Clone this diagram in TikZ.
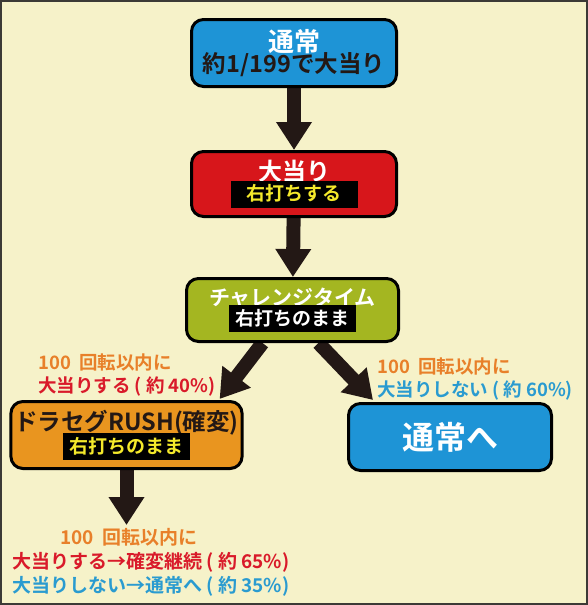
\documentclass[tikz,border=0pt]{standalone}
\usepackage{fontspec}
\setmainfont{Noto Sans CJK JP}[BoldFont={Noto Sans CJK JP Bold}]
\usepackage{xcolor}
\usetikzlibrary{arrows.meta, backgrounds}

\definecolor{paper}{HTML}{F6F2C9}
\definecolor{frame}{HTML}{3C3A36}
\definecolor{inkdark}{HTML}{231815}
\definecolor{boxblue}{HTML}{1E94D6}
\definecolor{boxred}{HTML}{D7161B}
\definecolor{boxolive}{HTML}{A4B621}
\definecolor{boxorange}{HTML}{E9951F}
\definecolor{txtorange}{HTML}{E8802A}
\definecolor{txtred}{HTML}{D91A2A}
\definecolor{txtblue}{HTML}{2A9BD0}
\definecolor{tagyellow}{HTML}{F4E92B}

\newcommand{\tagbox}[2]{{\setlength{\fboxsep}{0pt}\colorbox{black}{\makebox[127pt]{\rule[-7pt]{0pt}{27pt}\fontsize{19}{19}\selectfont\color{#1}#2}}}}

\tikzstyle{stagebox} = [rectangle, rounded corners=12pt, minimum width=205pt, minimum height=67pt, align=center, draw=black, line width=3pt, font=\bfseries]
\tikzstyle{note} = [align=left, anchor=north west, inner sep=0pt, font=\bfseries\fontsize{18.5}{23}\selectfont]
\tikzstyle{bigarrow} = [line width=14pt, draw=inkdark, -{Triangle[length=28pt, width=34pt]}]

\begin{document}
\begin{tikzpicture}[node distance=126pt]
\useasboundingbox (0,0) rectangle (588pt,-605pt);
\node (tsujo) [stagebox, fill=boxblue, text=white] at (294pt,-53pt) {{\fontsize{26}{28}\selectfont 通常}\\[-2pt]{\fontsize{23.5}{24}\selectfont\color{inkdark}約1/199で大当り}};
\node (atari) [stagebox, fill=boxred, text=white, minimum height=65pt, below of=tsujo, yshift=-5pt] {{\fontsize{24}{26}\selectfont 大当り}\\[-3pt]\tagbox{tagyellow}{右打ちする}};
\node (chal) [stagebox, fill=boxolive, text=white, minimum width=212pt, minimum height=63pt, below of=atari, xshift=-1.5pt] {{\fontsize{21}{24}\selectfont チャレンジタイム}\\[-3pt]\tagbox{white}{右打ちのまま}};
\node (rush) [stagebox, fill=boxorange, text=inkdark, minimum width=230pt, below of=chal, xshift=-166pt, yshift=1pt] {{\fontsize{23.5}{26}\selectfont ドラセグRUSH(確変)}\\[-3pt]\tagbox{tagyellow}{右打ちのまま}};
\node (tsujohe) [stagebox, fill=boxblue, text=white, minimum width=203pt, below of=chal, xshift=157.5pt, yshift=-1pt] {\fontsize{32}{34}\selectfont 通常へ};
\coordinate [below of=rush, node distance=90pt] (rushend);

\node (winL) [note] at (38pt,-354pt) {\color{txtorange}100\hspace{0.45em}回転以内に\\\color{txtred}大当りする ( 約 40\%)};
\node (loseR) [note] at (377pt,-358pt) {\color{txtorange}100\hspace{0.45em}回転以内に\\\color{txtblue}大当りしない ( 約 60\%)};
\node (rushend_note) [note, font=\bfseries\fontsize{19}{24}\selectfont] at (12pt,-528pt) {\hspace*{48pt}\color{txtorange}100\hspace{0.45em}回転以内に\\\color{txtred}大当りする→確変継続 ( 約 65\%)\\\color{txtblue}大当りしない→通常へ ( 約 35\%)};

\begin{scope}[on background layer]
\fill [paper] (0,0) rectangle (588pt,-605pt);
\draw [frame, line width=2pt] (1pt,-1pt) rectangle (587pt,-604pt);
\draw [bigarrow] (tsujo) -- (atari);
\draw [bigarrow] (atari) -- (chal);
\draw [bigarrow] ([xshift=-30pt]chal.south) -- ([xshift=-24pt, yshift=1pt]rush.north east);
\draw [bigarrow] ([xshift=26pt]chal.south) -- ([xshift=26pt, yshift=2pt]tsujohe.north west);
\draw [bigarrow] (rush) -- (rushend);
\end{scope}
\end{tikzpicture}
\end{document}
